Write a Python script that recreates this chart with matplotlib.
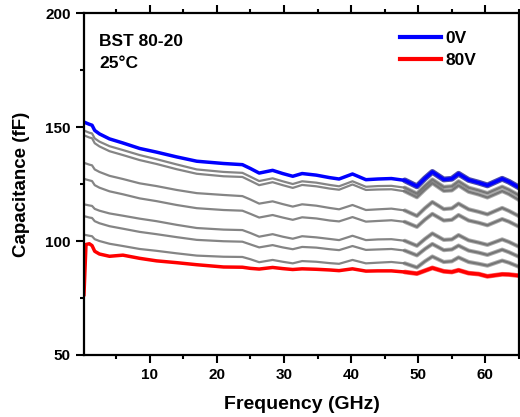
import matplotlib
matplotlib.use('Agg')
import matplotlib.pyplot as plt
from matplotlib.ticker import MultipleLocator

plt.rcParams['font.family'] = ['Liberation Sans', 'DejaVu Sans']
plt.rcParams['font.weight'] = 'bold'

# frequency points (GHz)
freq = [0.2, 0.5, 1.0, 1.4, 1.8, 2.5, 4, 6, 8.5, 11, 14, 17, 21, 23.8, 25, 26.3,
        28.3, 29.8, 31.3, 32.7, 34.8, 36.8, 38.2, 40.2, 42.2, 44, 46, 48, 49.8,
        51, 52.1, 53.8, 55, 56, 57.5, 59, 60.3, 62.5, 63.5, 65]

# capacitance (fF)
c_0v = [152.2, 151.8, 151.2, 150.8, 148.5, 147.0, 144.8, 143.0, 140.6, 139.0, 136.9, 135.0,
        134.0, 133.5, 131.8, 129.8, 131.0, 129.6, 128.4, 129.6, 128.9, 127.8, 127.2, 129.4,
        126.9, 127.2, 127.4, 126.6, 124.0, 127.5, 130.3, 127.0, 127.3, 129.5, 126.8, 125.6,
        124.4, 127.3, 126.0, 123.5]
c_10v = [148.5, 148.1, 147.5, 147.2, 145.0, 143.6, 141.6, 139.9, 137.7, 135.9, 133.6, 131.4,
         130.3, 129.9, 128.2, 126.3, 127.5, 126.2, 125.0, 126.2, 125.6, 124.6, 124.0, 126.2,
         123.8, 124.1, 124.2, 123.4, 120.8, 124.2, 127.0, 123.7, 124.0, 126.2, 123.4, 122.2,
         121.0, 123.8, 122.5, 120.0]
c_20v = [146.4, 146.0, 145.4, 145.1, 142.9, 141.5, 139.4, 137.7, 135.5, 133.8, 131.5, 129.5,
         128.4, 128.1, 126.4, 124.5, 125.8, 124.5, 123.3, 124.6, 124.0, 123.0, 122.5, 124.8,
         122.4, 122.6, 122.7, 121.8, 119.2, 122.6, 125.4, 122.0, 122.2, 124.4, 121.6, 120.4,
         119.1, 121.9, 120.6, 118.0]
c_30v = [134.3, 134.0, 133.5, 133.2, 131.4, 130.3, 128.6, 127.2, 125.3, 124.1, 122.4, 121.0,
         120.2, 119.7, 118.2, 116.4, 117.4, 116.2, 115.1, 116.1, 115.5, 114.5, 113.9, 115.8,
         113.6, 113.9, 114.2, 113.4, 111.0, 114.4, 117.1, 114.0, 114.3, 116.4, 113.9, 112.8,
         111.7, 114.5, 113.2, 110.9]
c_40v = [127.3, 127.0, 126.6, 126.3, 124.5, 123.4, 121.8, 120.5, 118.7, 117.5, 115.8, 114.4,
         113.6, 113.3, 111.9, 110.3, 111.4, 110.3, 109.3, 110.4, 109.9, 109.0, 108.6, 110.5,
         108.5, 108.8, 109.1, 108.4, 106.2, 109.4, 111.9, 109.0, 109.3, 111.4, 109.0, 108.0,
         106.9, 109.6, 108.5, 106.3]
c_50v = [116.1, 115.9, 115.6, 115.4, 114.1, 113.3, 112.1, 111.1, 109.8, 108.7, 107.1, 105.7,
         105.0, 104.8, 103.5, 101.9, 103.0, 101.9, 101.0, 102.1, 101.6, 100.9, 100.4, 102.3,
         100.4, 100.7, 100.8, 100.1, 97.9, 100.9, 103.3, 100.5, 100.7, 102.6, 100.3, 99.3,
         98.3, 100.7, 99.6, 97.5]
c_60v = [110.9, 110.7, 110.3, 110.1, 108.7, 107.8, 106.5, 105.4, 104.0, 103.0, 101.7, 100.5,
         99.9, 99.7, 98.5, 97.2, 98.2, 97.2, 96.4, 97.4, 97.1, 96.4, 96.0, 97.8,
         96.1, 96.3, 96.5, 95.8, 93.7, 96.5, 98.7, 96.0, 96.3, 98.0, 95.8, 94.9,
         93.9, 96.2, 95.1, 93.1]
c_70v = [102.8, 102.6, 102.3, 102.1, 100.8, 100.0, 98.8, 97.8, 96.5, 95.7, 94.6, 93.6,
         93.1, 93.0, 92.0, 90.7, 91.7, 90.9, 90.2, 91.2, 90.9, 90.3, 90.0, 91.7,
         90.2, 90.5, 90.8, 90.2, 88.4, 91.1, 93.2, 90.8, 91.1, 92.8, 90.8, 90.0,
         89.2, 91.4, 90.5, 88.7]
c_80v = [76.5, 98.5, 98.8, 98.0, 95.5, 94.3, 93.3, 93.8, 92.4, 91.3, 90.5, 89.6,
         88.6, 88.5, 88.0, 87.7, 88.4, 87.9, 87.5, 87.8, 87.6, 87.3, 87.0, 87.8,
         86.8, 86.9, 86.9, 86.4, 85.7, 87.0, 88.2, 86.7, 86.4, 87.2, 85.9, 85.5,
         84.5, 85.4, 85.3, 84.8]

middle = [c_10v, c_20v, c_30v, c_40v, c_50v, c_60v, c_70v]

fig = plt.figure(figsize=(5.2, 4.17), dpi=100)
ax = fig.add_axes([0.1615, 0.1487, 0.8365, 0.82])

# noisy region at high frequency drawn a bit thicker
hi = freq.index(48)
for c in middle:
    ax.plot(freq, c, color='#858585', lw=1.6)
    ax.plot(freq[hi:], c[hi:], color='#6a6a6a', lw=3.0, alpha=0.55,
            solid_capstyle='round', solid_joinstyle='round')
ax.plot(freq[hi:], c_0v[hi:], color='#00008b', lw=4.2, alpha=0.7,
        solid_capstyle='round', solid_joinstyle='round')
ax.plot(freq, c_0v, color='#0000ff', lw=2.5, label='0V')
ax.plot(freq[hi:], c_80v[hi:], color='#ff0000', lw=3.4, alpha=0.6,
        solid_capstyle='round', solid_joinstyle='round')
ax.plot(freq, c_80v, color='#ff0000', lw=2.5, label='80V')

ax.set_xlim(0.2, 65)
ax.set_ylim(50, 200)
ax.xaxis.set_major_locator(MultipleLocator(10))
ax.xaxis.set_minor_locator(MultipleLocator(5))
ax.yaxis.set_major_locator(MultipleLocator(50))
ax.yaxis.set_minor_locator(MultipleLocator(25))
ax.tick_params(which='both', direction='out', top=True, right=True, width=1.5,
               labelsize=11)
ax.tick_params(which='major', length=6)
ax.tick_params(which='minor', length=3)
for s in ax.spines.values():
    s.set_linewidth(1.6)

ax.set_xlabel('Frequency (GHz)', fontsize=14, fontweight='bold', labelpad=10)
ax.set_ylabel('Capacitance (fF)', fontsize=13.5, fontweight='bold', labelpad=11)

ax.text(0.035, 0.94, 'BST 80-20', transform=ax.transAxes, fontsize=12.5,
        fontweight='bold', va='top')
ax.text(0.035, 0.875, '25°C', transform=ax.transAxes, fontsize=12.5,
        fontweight='bold', va='top')

leg = ax.legend(loc='upper left', bbox_to_anchor=(0.71, 0.968), frameon=False,
                handlelength=2.4, handletextpad=0.25, labelspacing=0.38,
                borderaxespad=0, prop={'size': 12.5, 'weight': 'bold'})
for h in leg.get_lines():
    h.set_linewidth(3)

fig.savefig('out.png', dpi=100)
